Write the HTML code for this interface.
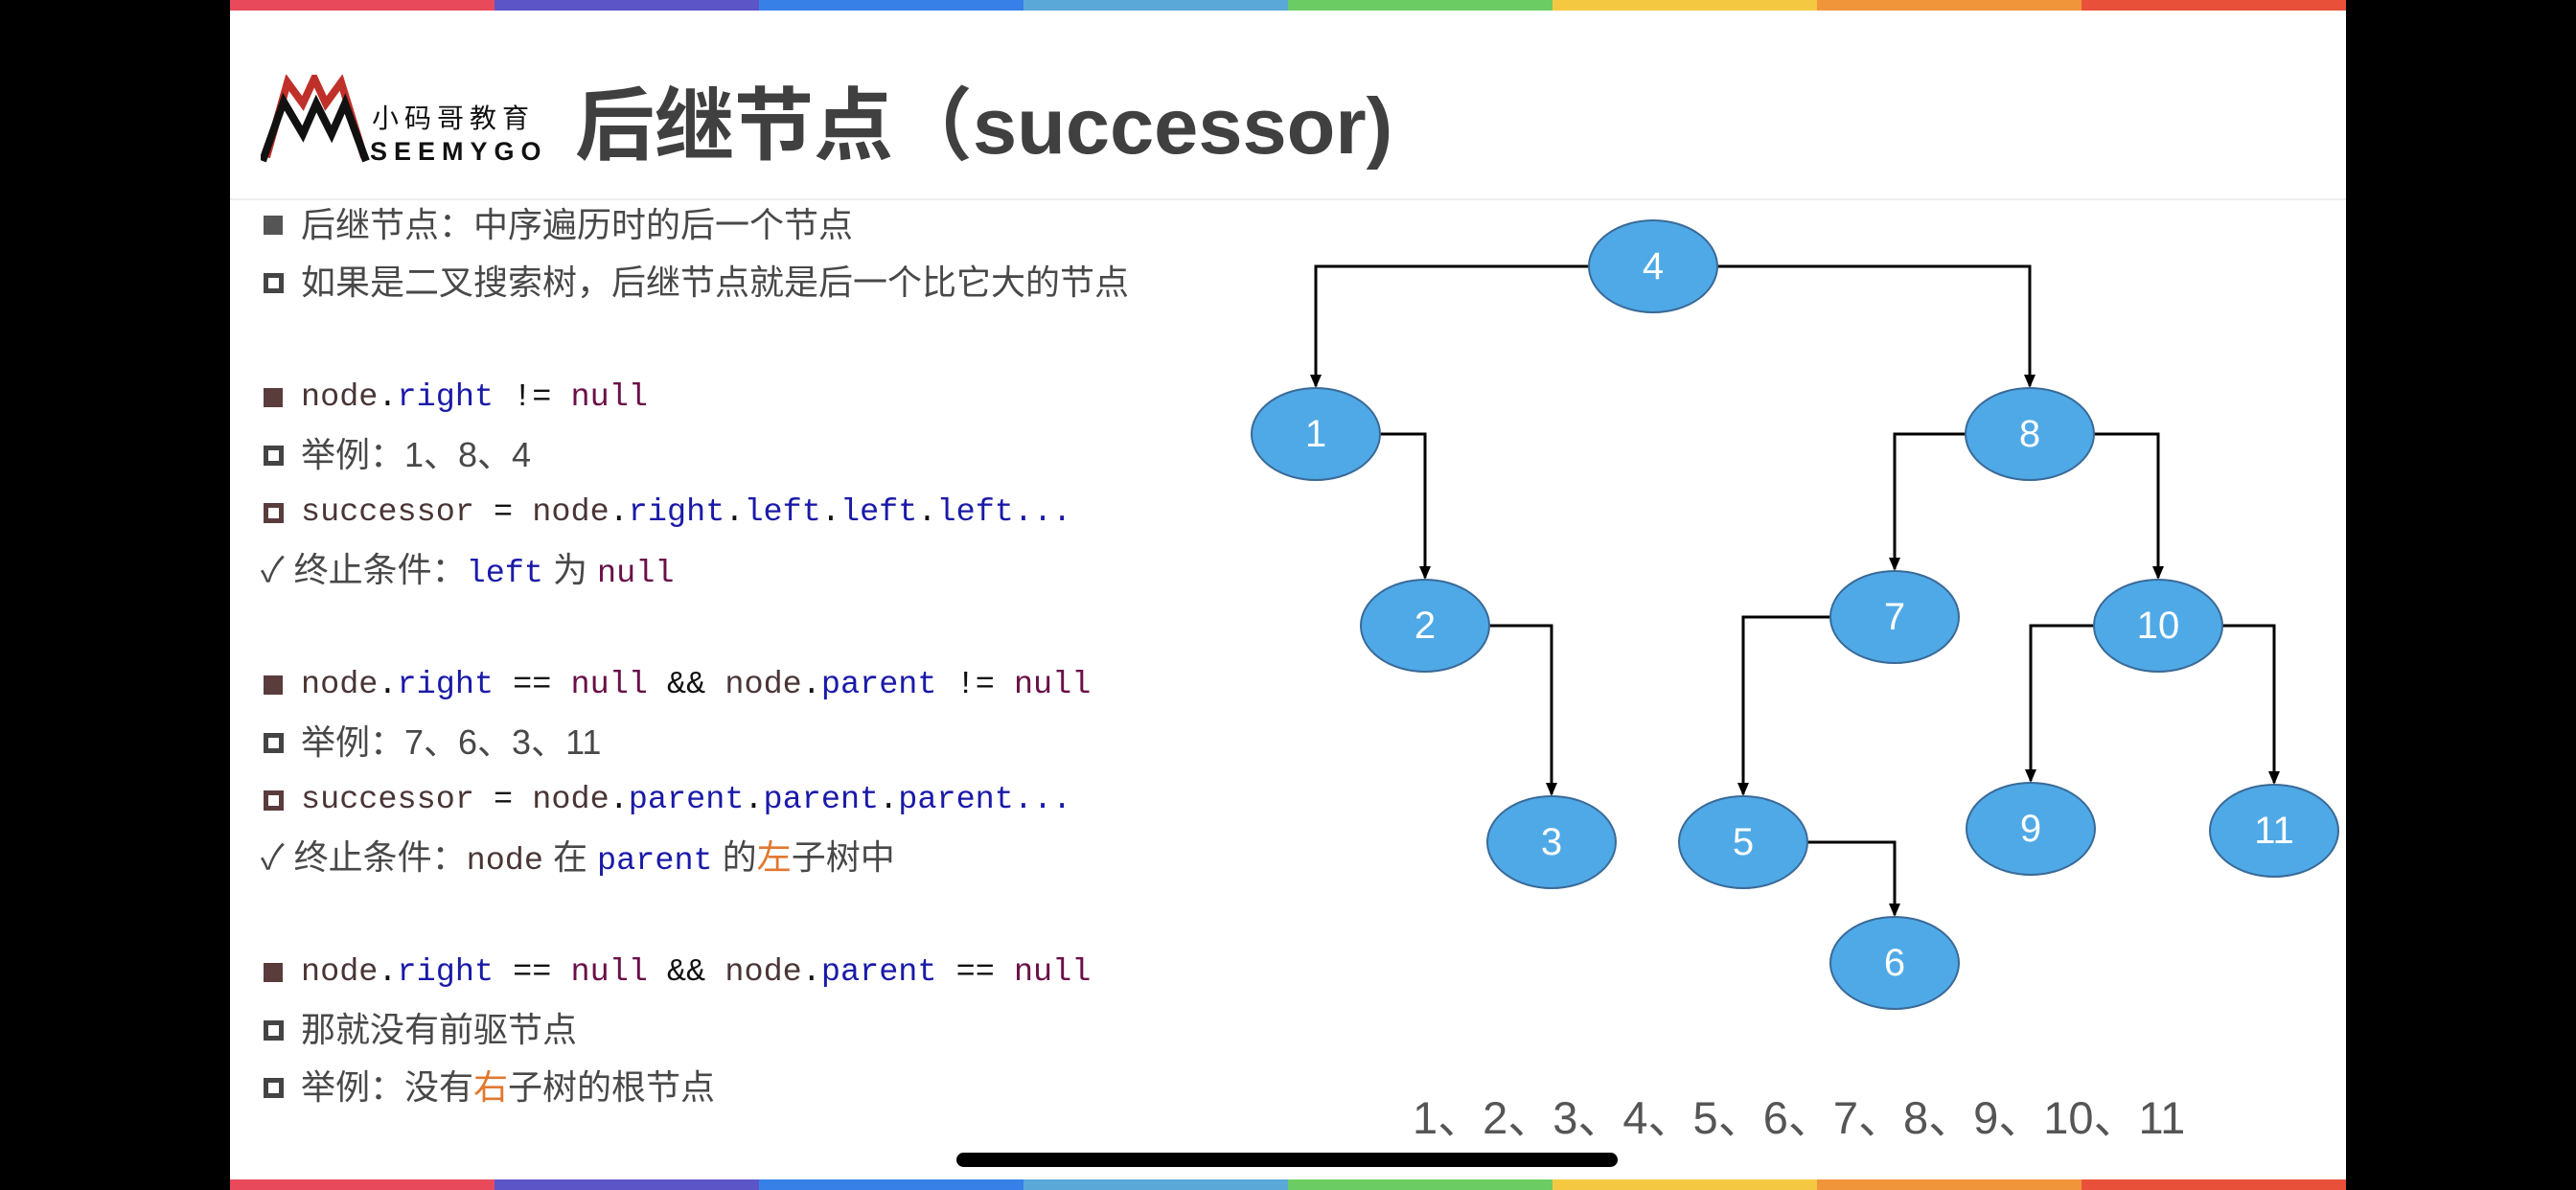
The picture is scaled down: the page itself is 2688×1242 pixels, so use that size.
<!DOCTYPE html>
<html><head><meta charset="utf-8"><style>
html,body{margin:0;padding:0;background:#000;}
#s{position:absolute;left:240px;top:0;width:2208px;height:1242px;background:#fff;overflow:hidden;}
.t{position:absolute;white-space:nowrap;font-family:"Liberation Sans","Noto Sans CJK SC",sans-serif;color:#484848;font-size:36px;line-height:40px;}
.m{font-family:"Liberation Mono","Noto Sans CJK SC",monospace;font-size:33.5px;}
.b{color:#1a1aa8}.n{color:#6a1048}.d{color:#4a3535}.k{color:#111}.o{color:#e07830}
.sq{position:absolute;width:20px;height:20px;}
.f{background:#5a3c3c}.g{background:#555}
.h{border:5px solid #444;width:11px;height:11px;}
.hb{border:5px solid #5a3c3c;width:11px;height:11px;}
</style></head><body>
<div id="s">
<div style="position:absolute;left:0;top:0;width:2208px;height:11px;display:flex">
<div style="flex:1;background:#e84a5c"></div><div style="flex:1;background:#5b55c8"></div><div style="flex:1;background:#3680e8"></div><div style="flex:1;background:#5aa8d8"></div><div style="flex:1;background:#6ccc64"></div><div style="flex:1;background:#f5c842"></div><div style="flex:1;background:#f0953a"></div><div style="flex:1;background:#e8503a"></div>
</div>
<div style="position:absolute;left:0;top:1231px;width:2208px;height:11px;display:flex">
<div style="flex:1;background:#e84a5c"></div><div style="flex:1;background:#5b55c8"></div><div style="flex:1;background:#3680e8"></div><div style="flex:1;background:#5aa8d8"></div><div style="flex:1;background:#6ccc64"></div><div style="flex:1;background:#f5c842"></div><div style="flex:1;background:#f0953a"></div><div style="flex:1;background:#e8503a"></div>
</div>
<!-- logo -->
<svg style="position:absolute;left:32px;top:78px" width="115" height="92">
<polyline points="6,86 28,8 44,30 56,4 68,30 84,8 108,86" fill="none" stroke="#c0302a" stroke-width="8"/>
<polyline points="2,90 24,28 44,62 58,30 74,62 88,30 110,90" fill="none" stroke="#111" stroke-width="8"/>
</svg>
<div class="t" style="left:148px;top:104px;font-size:28px;color:#111;letter-spacing:6px">小码哥教育</div>
<div class="t" style="left:146px;top:138px;font-size:27px;font-weight:bold;color:#111;letter-spacing:7px">SEEMYGO</div>
<div class="t" style="left:360px;top:82px;font-size:83px;line-height:100px;font-weight:bold;color:#404040">后继节点（successor)</div>
<div style="position:absolute;left:0;top:207px;width:2208px;height:2px;background:#eee"></div>

<div class="sq g" style="left:35px;top:225px"></div>
<div class="t" style="left:74px;top:215px">后继节点：中序遍历时的后一个节点</div>
<div class="sq h" style="left:35px;top:285px"></div>
<div class="t" style="left:74px;top:275px">如果是二叉搜索树，后继节点就是后一个比它大的节点</div>

<div class="sq f" style="left:35px;top:405px"></div>
<div class="t m" style="left:74px;top:395px"><span class="d">node</span><span class="k">.</span><span class="b">right</span> <span class="k">!=</span> <span class="n">null</span></div>
<div class="sq h" style="left:35px;top:465px"></div>
<div class="t" style="left:74px;top:455px">举例：1、8、4</div>
<div class="sq hb" style="left:35px;top:525px"></div>
<div class="t m" style="left:74px;top:515px"><span class="d">successor</span> <span class="k">=</span> <span class="d">node</span><span class="k">.</span><span class="b">right</span><span class="k">.</span><span class="b">left</span><span class="k">.</span><span class="b">left</span><span class="k">.</span><span class="b">left...</span></div>
<div class="t" style="left:32px;top:575px">✓ 终止条件：<span class="m b">left</span> 为 <span class="m n">null</span></div>

<div class="sq f" style="left:35px;top:705px"></div>
<div class="t m" style="left:74px;top:695px"><span class="d">node</span><span class="k">.</span><span class="b">right</span> <span class="k">==</span> <span class="n">null</span> <span class="k">&amp;&amp;</span> <span class="d">node</span><span class="k">.</span><span class="b">parent</span> <span class="k">!=</span> <span class="n">null</span></div>
<div class="sq h" style="left:35px;top:765px"></div>
<div class="t" style="left:74px;top:755px">举例：7、6、3、11</div>
<div class="sq hb" style="left:35px;top:825px"></div>
<div class="t m" style="left:74px;top:815px"><span class="d">successor</span> <span class="k">=</span> <span class="d">node</span><span class="k">.</span><span class="b">parent</span><span class="k">.</span><span class="b">parent</span><span class="k">.</span><span class="b">parent...</span></div>
<div class="t" style="left:32px;top:875px">✓ 终止条件：<span class="m d">node</span> 在 <span class="m b">parent</span> 的<span class="o">左</span>子树中</div>

<div class="sq f" style="left:35px;top:1005px"></div>
<div class="t m" style="left:74px;top:995px"><span class="d">node</span><span class="k">.</span><span class="b">right</span> <span class="k">==</span> <span class="n">null</span> <span class="k">&amp;&amp;</span> <span class="d">node</span><span class="k">.</span><span class="b">parent</span> <span class="k">==</span> <span class="n">null</span></div>
<div class="sq h" style="left:35px;top:1065px"></div>
<div class="t" style="left:74px;top:1055px">那就没有前驱节点</div>
<div class="sq h" style="left:35px;top:1125px"></div>
<div class="t" style="left:74px;top:1115px">举例：没有<span class="o">右</span>子树的根节点</div>

<div class="t" style="left:1234px;top:1140px;font-size:47px;line-height:54px;color:#555">1、2、3、4、5、6、7、8、9、10、11</div>
<div style="position:absolute;left:758px;top:1203px;width:690px;height:15px;border-radius:8px;background:#000"></div>
</div>

<svg style="position:absolute;left:0;top:0" width="2688" height="1242" font-family="Liberation Sans, sans-serif">
<g fill="none" stroke="#000" stroke-width="3">
<path d="M1658,278 H1373 V403"/><path d="M1792,278 H2118 V403"/>
<path d="M1440,453 H1487 V603"/><path d="M1554,653 H1619 V829"/>
<path d="M2051,453 H1977 V594"/><path d="M2185,453 H2252 V603"/>
<path d="M1910,644 H1819 V829"/><path d="M2185,653 H2119 V815"/>
<path d="M2319,653 H2373 V817"/><path d="M1886,879 H1977 V955"/>
</g>
<g fill="#000">
<path d="M1367,391 L1379,391 L1373,405 Z"/><path d="M2112,391 L2124,391 L2118,405 Z"/>
<path d="M1481,591 L1493,591 L1487,605 Z"/><path d="M1613,817 L1625,817 L1619,831 Z"/>
<path d="M1971,582 L1983,582 L1977,596 Z"/><path d="M2246,591 L2258,591 L2252,605 Z"/>
<path d="M1813,817 L1825,817 L1819,831 Z"/><path d="M2113,803 L2125,803 L2119,817 Z"/>
<path d="M2367,805 L2379,805 L2373,819 Z"/><path d="M1971,943 L1983,943 L1977,957 Z"/>
</g>
<g fill="#4fa9e6" stroke="#3a6a98" stroke-width="2">
<ellipse cx="1725" cy="278" rx="67" ry="48"/><ellipse cx="1373" cy="453" rx="67" ry="48"/>
<ellipse cx="2118" cy="453" rx="67" ry="48"/><ellipse cx="1487" cy="653" rx="67" ry="48"/>
<ellipse cx="1977" cy="644" rx="67" ry="48"/><ellipse cx="2252" cy="653" rx="67" ry="48"/>
<ellipse cx="1619" cy="879" rx="67" ry="48"/><ellipse cx="1819" cy="879" rx="67" ry="48"/>
<ellipse cx="2119" cy="865" rx="67" ry="48"/><ellipse cx="2373" cy="867" rx="67" ry="48"/>
<ellipse cx="1977" cy="1005" rx="67" ry="48"/>
</g>
<g fill="#fff" font-size="40" text-anchor="middle" dominant-baseline="central">
<text x="1725" y="278">4</text><text x="1373" y="453">1</text><text x="2118" y="453">8</text>
<text x="1487" y="653">2</text><text x="1977" y="644">7</text><text x="2252" y="653">10</text>
<text x="1619" y="879">3</text><text x="1819" y="879">5</text><text x="2119" y="865">9</text>
<text x="2373" y="867">11</text><text x="1977" y="1005">6</text>
</g>
</svg>
</body></html>
